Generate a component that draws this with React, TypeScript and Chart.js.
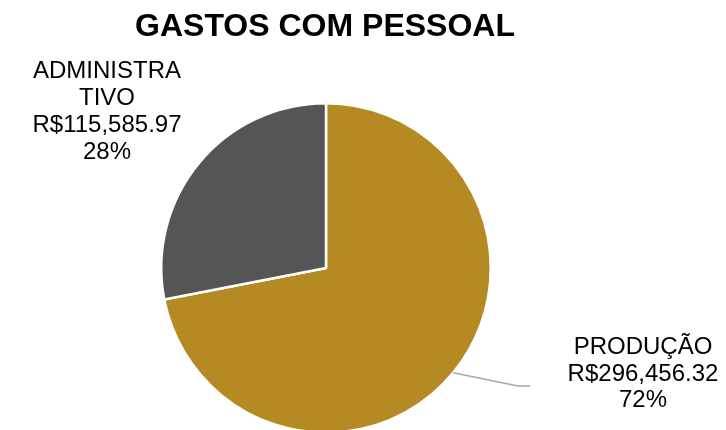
import React, { useEffect, useRef } from "react";
import { Chart, registerables } from "chart.js";

Chart.register(...registerables);

const title = "GASTOS COM PESSOAL";
const categories = ["PRODUÇÃO", "ADMINISTRATIVO"];
const categoryLines = [["PRODUÇÃO"], ["ADMINISTRA", "TIVO"]];
const values = [296456.32, 115585.97];
const colors = ["#B58A22", "#555555"];

const fmtMoney = (v: number) =>
  "R$" + v.toLocaleString("en-US", { minimumFractionDigits: 2, maximumFractionDigits: 2 });

export default function App() {
  const ref = useRef<HTMLCanvasElement>(null);
  useEffect(() => {
    if (!ref.current) return;
    const total = values.reduce((a, b) => a + b, 0);
    const labelPlugin = {
      id: "labels",
      afterDraw(chart: any) {
        const ctx = chart.ctx;
        ctx.save();
        // title
        ctx.fillStyle = "#000";
        ctx.font = "bold 32px 'Liberation Sans', Arial, sans-serif";
        ctx.textAlign = "center";
        ctx.textBaseline = "alphabetic";
        ctx.fillText(title, 325, 36);

        const meta = chart.getDatasetMeta(0);
        ctx.font = "24px 'Liberation Sans', Arial, sans-serif";
        const placements = [
          { x: 643, y: 354, lh: 26.5, leader: true },
          { x: 107, y: 78, lh: 27, leader: false },
        ];
        meta.data.forEach((arc: any, i: number) => {
          const p = placements[i];
          const lines = [
            ...categoryLines[i],
            fmtMoney(values[i]),
            Math.round((values[i] / total) * 100) + "%",
          ];
          if (p.leader) {
            const mid = (arc.startAngle + arc.endAngle) / 2;
            const sx = arc.x + Math.cos(mid) * arc.outerRadius;
            const sy = arc.y + Math.sin(mid) * arc.outerRadius;
            ctx.strokeStyle = "#A6A6A6";
            ctx.lineWidth = 1.5;
            ctx.beginPath();
            ctx.moveTo(sx, sy);
            ctx.lineTo(518, 386);
            ctx.lineTo(530, 386);
            ctx.stroke();
          }
          ctx.fillStyle = "#000";
          lines.forEach((t, k) => ctx.fillText(t, p.x, p.y + k * p.lh));
        });
        ctx.restore();
      },
    };
    const chart = new Chart(ref.current, {
      type: "pie",
      data: {
        labels: categories,
        datasets: [
          {
            data: values,
            backgroundColor: colors,
            borderColor: "#ffffff",
            borderWidth: 2.5,
          },
        ],
      },
      options: {
        animation: false,
        responsive: false,
        maintainAspectRatio: false,
        layout: { padding: { left: 160, right: 234, top: 102, bottom: 6 } },
        plugins: {
          legend: { display: false },
          tooltip: { enabled: false },
          title: { display: false },
        },
      },
      plugins: [labelPlugin],
    });
    return () => chart.destroy();
  }, []);
  return (
    <div
      style={{
        position: "fixed",
        left: 0,
        top: 0,
        width: 726,
        height: 430,
        overflow: "hidden",
        background: "#fff",
      }}
    >
      <canvas ref={ref} width={726} height={440} style={{ width: 726, height: 440 }} />
    </div>
  );
}
